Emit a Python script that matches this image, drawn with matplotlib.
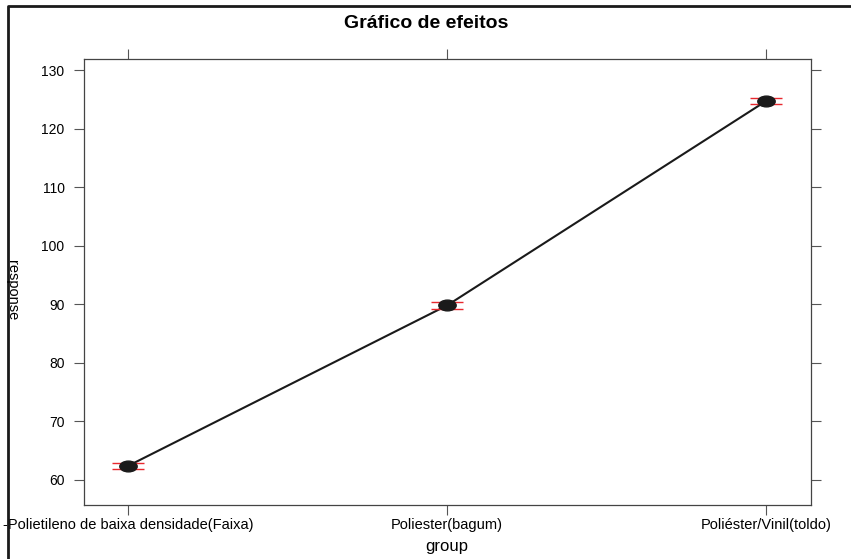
import matplotlib
matplotlib.use("Agg")
import matplotlib.pyplot as plt
from matplotlib.lines import Line2D
from matplotlib.path import Path
from matplotlib.transforms import Affine2D
import numpy as np

plt.rcParams['font.family'] = ['Liberation Sans', 'DejaVu Sans']

groups = ["-Polietileno de baixa densidade(Faixa)", "Poliester(bagum)", "Poliéster/Vinil(toldo)"]
means = [62.4, 89.8, 124.7]
lower = [61.85, 89.25, 124.15]
upper = [62.95, 90.35, 125.25]
yticks = [60, 70, 80, 90, 100, 110, 120, 130]

fig = plt.figure(figsize=(8.51, 5.59), dpi=100)
ax = fig.add_axes([84 / 851, 1 - 505 / 559, (811 - 84) / 851, (505 - 59) / 559])

x = np.arange(1, len(groups) + 1)
m = np.array(means)
yerr = [m - np.array(lower), np.array(upper) - m]

# flattened dot like the lattice output
oval = Path.unit_circle().transformed(Affine2D().scale(1.0, 0.62))

ax.plot(x, m, color='#1a1a1a', lw=1.5, zorder=2)
ax.errorbar(x, m, yerr=yerr, fmt='none', ecolor='#e8282e', elinewidth=1.0,
            capsize=11.5, capthick=1.0, zorder=3)
ax.plot(x, m, ls='none', marker=oval, ms=12.5, color='#1a1a1a', zorder=4)

ax.set_xlim(0.862, 3.141)
ax.set_ylim(55.73, 131.88)
ax.set_xticks(x)
ax.set_xticklabels(groups, fontsize=10.5)
ax.set_yticks(yticks)
ax.set_yticklabels([str(v) for v in yticks], fontsize=10)

ax.tick_params(axis='both', direction='out', length=7, width=0.8, color='#555555',
               top=True, right=True, labeltop=False, labelright=False)
ax.tick_params(axis='y', pad=7)
ax.tick_params(axis='x', pad=2)
for s in ax.spines.values():
    s.set_color('#444444')
    s.set_linewidth(0.9)

fig.text(426 / 851, 1 - 23 / 559, "Gráfico de efeitos", ha='center', va='center',
         fontsize=14, fontweight='bold')
fig.text(447 / 851, 1 - 546 / 559, "group", ha='center', va='center', fontsize=12)
fig.text(12 / 851, 1 - 290 / 559, "response", ha='center', va='center', fontsize=10.5,
         rotation=-90)

# outer frame
fig.add_artist(Line2D([8 / 851, 8 / 851, 1.0], [0.0, 1 - 6 / 559, 1 - 6 / 559],
                      transform=fig.transFigure, color='#1a1a1a', lw=2))

fig.savefig("out.png", dpi=100)
